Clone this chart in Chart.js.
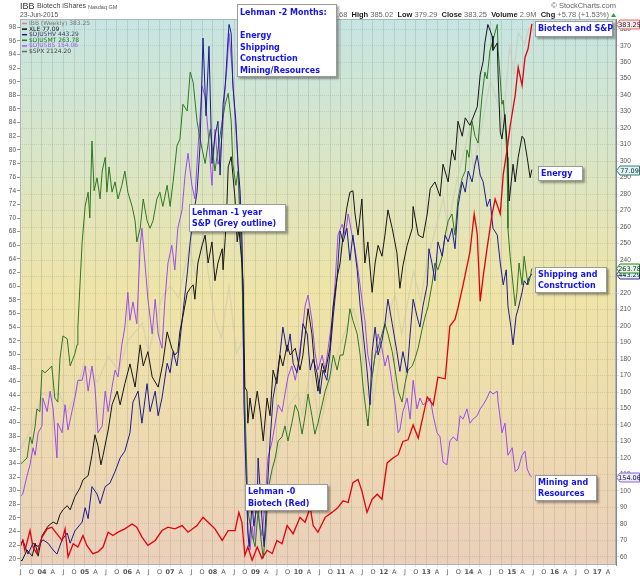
<!DOCTYPE html>
<html>
<head>
<meta charset="utf-8">
<script src="https://cdn.jsdelivr.net/npm/chart.js@4.4.0/dist/chart.umd.min.js"></script>
<style>
  html, body { margin: 0; padding: 0; background: #fff; }
  #wrap { width: 640px; height: 576px; position: relative; }
</style>
</head>
<body>
<div id="wrap"><canvas id="chart"></canvas></div>
<script>
// quarterly tick labels, first one is July 2003
const xTickStart = 2003.5;
const xTickLabels = ['J','O',
  '04','A','J','O','05','A','J','O','06','A','J','O','07','A','J','O',
  '08','A','J','O','09','A','J','O','10','A','J','O','11','A','J','O',
  '12','A','J','O','13','A','J','O','14','A','J','O','15','A','J','O',
  '16','A','J','O','17','A'];
const leftTicks = [20,22,24,26,28,30,32,34,36,38,40,42,44,46,48,50,52,54,56,58,
  60,62,64,66,68,70,72,74,76,78,80,82,84,86,88,90,92,94,96,98];
const rightTicks = [60,70,80,90,100,110,120,130,140,150,160,170,180,190,200,210,
  220,230,240,250,260,270,280,290,300,310,320,330,340,350,360,370,380];

// IBB weekly close (right scale), [year, value]
const ibb = [[2003.48,66],[2003.55,70],[2003.60,64],[2003.72,76],[2003.79,66],[2003.88,62],[2004.00,72],[2004.12,77],[2004.23,78],[2004.35,74],[2004.47,70],[2004.54,77],[2004.61,60],[2004.73,68],[2004.84,66],[2004.96,73],[2005.05,67],[2005.19,62],[2005.31,63],[2005.43,66],[2005.55,75],[2005.66,73],[2005.78,75],[2005.94,77],[2006.11,80],[2006.22,78],[2006.34,72],[2006.48,67],[2006.65,70],[2006.81,76],[2006.95,78],[2007.11,77],[2007.28,79],[2007.42,75],[2007.63,79],[2007.77,84],[2007.89,81],[2008.05,77],[2008.22,70],[2008.36,76],[2008.52,76],[2008.61,87],[2008.68,81],[2008.75,61],[2008.82,66],[2008.92,58],[2009.04,66],[2009.15,59],[2009.27,64],[2009.39,62],[2009.50,70],[2009.62,68],[2009.74,79],[2009.88,74],[2010.04,84],[2010.16,81],[2010.28,90],[2010.35,79],[2010.46,75],[2010.63,84],[2010.79,87],[2010.93,90],[2011.05,94],[2011.17,93],[2011.28,105],[2011.40,107],[2011.49,100],[2011.61,87],[2011.73,95],[2011.85,98],[2011.96,95],[2012.08,117],[2012.22,120],[2012.34,122],[2012.45,130],[2012.57,131],[2012.69,140],[2012.81,132],[2013.02,157],[2013.16,152],[2013.27,169],[2013.44,168],[2013.55,200],[2013.67,204],[2013.74,211],[2013.86,225],[2014.02,245],[2014.12,268],[2014.19,256],[2014.26,215],[2014.33,230],[2014.42,247],[2014.54,268],[2014.61,277],[2014.73,268],[2014.80,292],[2014.89,307],[2014.96,321],[2015.08,340],[2015.15,357],[2015.24,346],[2015.31,363],[2015.38,368],[2015.47,383.25]];

// overlays, read against the left scale
const xle = [[2003.48,20.0],[2003.53,19.7],[2003.65,21.3],[2003.77,20.4],[2003.84,22.3],[2003.91,20.4],[2004.00,23.4],[2004.14,24.8],[2004.26,25.4],[2004.35,25.1],[2004.42,26.5],[2004.49,27.2],[2004.59,27.8],[2004.66,27.2],[2004.77,29.1],[2004.89,30.4],[2004.96,31.6],[2005.08,32.2],[2005.17,35.2],[2005.24,38.2],[2005.31,36.6],[2005.38,33.8],[2005.43,35.2],[2005.55,38.9],[2005.64,42.6],[2005.76,44.6],[2005.83,42.6],[2005.94,45.7],[2006.06,48.6],[2006.18,45.2],[2006.30,51.4],[2006.37,48.3],[2006.48,50.4],[2006.58,46.7],[2006.72,45.2],[2006.83,48.7],[2006.93,53.3],[2007.04,50.9],[2007.11,49.9],[2007.18,50.4],[2007.23,53.4],[2007.30,55.6],[2007.40,59.0],[2007.47,59.7],[2007.54,60.2],[2007.58,58.1],[2007.65,63.4],[2007.75,66.0],[2007.82,67.5],[2007.89,63.4],[2007.98,66.5],[2008.05,60.8],[2008.12,63.4],[2008.22,65.5],[2008.24,62.4],[2008.29,67.0],[2008.33,72.0],[2008.36,77.5],[2008.43,79.0],[2008.47,76.3],[2008.52,72.8],[2008.57,66.5],[2008.61,68.5],[2008.68,63.4],[2008.71,60.2],[2008.75,45.2],[2008.80,44.6],[2008.82,39.9],[2008.87,43.6],[2008.94,40.5],[2009.04,44.6],[2009.11,41.5],[2009.18,37.3],[2009.27,43.6],[2009.34,41.0],[2009.41,47.7],[2009.50,45.7],[2009.57,49.9],[2009.64,48.3],[2009.74,51.4],[2009.81,49.9],[2009.93,50.9],[2010.04,47.7],[2010.11,49.9],[2010.23,56.7],[2010.32,53.0],[2010.39,47.7],[2010.46,44.6],[2010.56,48.7],[2010.63,47.3],[2010.74,50.9],[2010.82,57.1],[2010.91,61.3],[2010.98,63.4],[2011.05,67.5],[2011.14,71.6],[2011.21,73.8],[2011.28,74.0],[2011.33,70.6],[2011.40,67.5],[2011.49,72.8],[2011.56,63.4],[2011.63,66.5],[2011.73,59.1],[2011.80,63.4],[2011.87,66.0],[2011.96,64.4],[2012.03,67.5],[2012.10,71.2],[2012.20,68.5],[2012.31,64.9],[2012.38,59.7],[2012.45,63.0],[2012.55,66.0],[2012.67,68.5],[2012.69,71.7],[2012.81,67.5],[2012.92,67.1],[2013.02,70.6],[2013.09,74.3],[2013.20,75.3],[2013.32,73.2],[2013.39,77.9],[2013.51,75.3],[2013.60,80.0],[2013.67,78.5],[2013.74,84.2],[2013.84,82.0],[2013.91,84.7],[2014.02,83.6],[2014.19,86.3],[2014.26,91.0],[2014.33,93.0],[2014.37,95.7],[2014.44,98.4],[2014.54,96.7],[2014.56,94.6],[2014.66,95.7],[2014.68,91.0],[2014.73,82.6],[2014.77,81.6],[2014.84,85.2],[2014.89,81.0],[2014.94,72.5],[2015.03,77.9],[2015.08,75.3],[2015.15,78.9],[2015.24,82.0],[2015.29,81.6],[2015.36,78.9],[2015.43,75.9],[2015.47,77.09]];

const djushv = [[2003.48,21.5],[2003.55,22.8],[2003.67,20.7],[2003.79,22.3],[2003.91,21.8],[2004.02,22.8],[2004.14,22.3],[2004.26,21.3],[2004.35,20.7],[2004.47,22.8],[2004.59,23.8],[2004.66,22.3],[2004.77,24.1],[2004.94,25.4],[2005.01,27.5],[2005.08,25.9],[2005.17,30.6],[2005.29,29.5],[2005.36,28.1],[2005.48,30.6],[2005.59,31.1],[2005.71,32.8],[2005.83,34.8],[2005.94,35.8],[2006.06,38.5],[2006.13,43.0],[2006.25,44.6],[2006.34,39.9],[2006.46,45.7],[2006.53,41.6],[2006.65,44.6],[2006.72,41.0],[2006.81,43.6],[2006.93,48.7],[2007.00,47.3],[2007.07,50.4],[2007.16,48.3],[2007.23,52.0],[2007.30,56.1],[2007.40,61.8],[2007.47,66.5],[2007.54,70.1],[2007.63,73.8],[2007.70,80.6],[2007.77,96.4],[2007.84,85.0],[2007.91,95.2],[2007.98,78.0],[2008.05,82.0],[2008.12,84.2],[2008.17,76.3],[2008.24,86.7],[2008.29,89.4],[2008.36,96.7],[2008.38,98.4],[2008.43,97.1],[2008.47,89.4],[2008.54,84.2],[2008.59,77.9],[2008.64,73.8],[2008.68,67.5],[2008.71,58.1],[2008.73,42.6],[2008.78,32.2],[2008.82,23.8],[2008.85,21.8],[2008.92,28.1],[2008.96,24.8],[2009.04,28.1],[2009.06,34.8],[2009.15,25.9],[2009.20,21.8],[2009.27,29.5],[2009.34,37.3],[2009.41,43.6],[2009.50,46.7],[2009.57,49.9],[2009.64,54.0],[2009.74,50.4],[2009.81,53.0],[2009.88,48.7],[2009.97,47.3],[2010.04,49.9],[2010.11,54.5],[2010.21,53.0],[2010.28,47.7],[2010.35,49.3],[2010.44,47.3],[2010.51,44.2],[2010.58,47.7],[2010.67,46.2],[2010.74,49.9],[2010.82,55.6],[2010.91,61.3],[2010.98,68.1],[2011.05,66.5],[2011.14,68.5],[2011.21,63.8],[2011.28,67.5],[2011.38,62.4],[2011.45,57.1],[2011.52,53.0],[2011.61,47.7],[2011.68,42.6],[2011.73,50.4],[2011.80,54.0],[2011.87,49.9],[2011.96,52.0],[2012.03,54.5],[2012.10,58.1],[2012.20,54.5],[2012.31,50.4],[2012.38,47.5],[2012.45,50.4],[2012.55,47.3],[2012.62,53.0],[2012.69,58.1],[2012.78,55.6],[2012.85,54.0],[2012.92,57.1],[2013.02,60.2],[2013.06,65.5],[2013.13,63.4],[2013.20,60.8],[2013.27,66.5],[2013.37,64.4],[2013.44,67.5],[2013.51,66.5],[2013.60,68.5],[2013.67,65.5],[2013.74,71.7],[2013.84,75.3],[2013.91,73.8],[2013.98,76.9],[2014.07,75.3],[2014.14,77.9],[2014.19,79.2],[2014.26,76.3],[2014.33,75.3],[2014.42,71.7],[2014.49,72.8],[2014.56,68.5],[2014.66,67.5],[2014.73,63.4],[2014.80,60.2],[2014.87,62.4],[2014.91,57.1],[2014.98,54.0],[2015.03,51.4],[2015.10,55.6],[2015.15,56.7],[2015.24,59.1],[2015.29,60.8],[2015.36,60.2],[2015.40,61.2],[2015.47,61.8]];

const djusmt = [[2003.48,33.8],[2003.55,34.2],[2003.65,34.8],[2003.72,37.9],[2003.77,36.9],[2003.84,39.5],[2003.88,42.0],[2003.95,41.6],[2004.00,47.7],[2004.07,47.3],[2004.14,47.7],[2004.23,48.3],[2004.30,43.6],[2004.37,43.0],[2004.42,49.3],[2004.49,52.7],[2004.59,52.3],[2004.66,48.3],[2004.77,50.1],[2004.82,51.4],[2004.84,54.0],[2004.94,66.5],[2005.01,71.7],[2005.08,73.8],[2005.12,70.0],[2005.17,81.3],[2005.22,74.0],[2005.29,75.9],[2005.36,72.8],[2005.41,76.9],[2005.48,78.9],[2005.52,73.8],[2005.57,77.5],[2005.64,73.8],[2005.71,75.3],[2005.78,72.8],[2005.87,74.8],[2005.94,76.9],[2006.01,73.8],[2006.11,71.7],[2006.18,69.6],[2006.22,66.5],[2006.30,68.5],[2006.37,72.8],[2006.46,69.6],[2006.53,68.5],[2006.60,69.6],[2006.69,72.8],[2006.76,73.8],[2006.83,71.7],[2006.93,74.8],[2007.00,71.7],[2007.07,75.3],[2007.16,80.6],[2007.23,81.6],[2007.30,86.7],[2007.40,85.7],[2007.47,91.4],[2007.54,89.9],[2007.63,84.2],[2007.70,81.6],[2007.82,78.0],[2007.94,83.0],[2008.05,76.9],[2008.12,80.0],[2008.22,84.2],[2008.29,86.7],[2008.36,88.3],[2008.43,84.2],[2008.47,77.9],[2008.54,74.8],[2008.59,76.9],[2008.64,68.5],[2008.68,63.4],[2008.71,53.0],[2008.75,42.6],[2008.80,32.2],[2008.82,27.0],[2008.92,23.4],[2008.99,21.8],[2009.06,27.0],[2009.13,22.8],[2009.18,20.1],[2009.25,24.8],[2009.29,30.1],[2009.39,33.2],[2009.46,34.8],[2009.53,37.3],[2009.62,37.9],[2009.69,39.5],[2009.76,37.3],[2009.85,39.9],[2009.93,42.6],[2010.00,41.6],[2010.09,38.3],[2010.16,41.0],[2010.23,44.2],[2010.32,41.0],[2010.39,38.3],[2010.46,39.9],[2010.56,42.6],[2010.63,44.6],[2010.74,46.7],[2010.82,49.9],[2010.91,47.7],[2010.98,49.9],[2011.05,49.9],[2011.14,53.0],[2011.21,56.7],[2011.28,55.0],[2011.38,53.0],[2011.45,49.9],[2011.52,45.2],[2011.61,40.5],[2011.63,39.5],[2011.73,46.7],[2011.80,49.9],[2011.87,50.9],[2011.96,53.0],[2012.03,54.5],[2012.10,53.0],[2012.20,50.4],[2012.27,47.7],[2012.34,44.6],[2012.43,43.0],[2012.50,45.7],[2012.57,47.7],[2012.67,48.3],[2012.74,49.5],[2012.81,51.0],[2012.90,53.7],[2012.97,55.5],[2013.04,57.0],[2013.13,60.2],[2013.20,63.4],[2013.27,62.4],[2013.37,64.4],[2013.44,67.5],[2013.51,69.6],[2013.60,70.6],[2013.67,67.5],[2013.74,72.8],[2013.84,75.9],[2013.91,76.9],[2013.95,80.0],[2014.00,78.9],[2014.07,84.2],[2014.14,82.0],[2014.21,81.0],[2014.30,87.7],[2014.37,91.4],[2014.42,90.4],[2014.49,94.6],[2014.56,96.1],[2014.66,98.4],[2014.68,94.6],[2014.73,90.4],[2014.77,86.7],[2014.80,87.3],[2014.84,84.2],[2014.89,78.9],[2014.91,68.5],[2014.96,64.4],[2015.03,60.2],[2015.08,57.1],[2015.12,59.1],[2015.17,63.4],[2015.24,60.2],[2015.29,64.4],[2015.33,62.4],[2015.38,60.2],[2015.43,61.3],[2015.47,62.6]];

const djusbs = [[2003.48,29.1],[2003.55,29.5],[2003.65,32.2],[2003.72,33.8],[2003.79,36.3],[2003.84,35.2],[2003.91,38.5],[2004.00,39.5],[2004.02,43.6],[2004.12,41.6],[2004.19,44.6],[2004.26,42.0],[2004.35,34.8],[2004.37,39.9],[2004.47,38.5],[2004.54,42.6],[2004.61,38.9],[2004.70,41.6],[2004.77,43.6],[2004.84,46.2],[2004.94,46.2],[2005.01,48.3],[2005.08,44.6],[2005.17,48.3],[2005.24,45.2],[2005.31,38.5],[2005.41,39.5],[2005.48,44.6],[2005.55,41.6],[2005.64,45.2],[2005.71,47.7],[2005.78,46.7],[2005.87,51.4],[2005.94,54.0],[2006.01,59.1],[2006.06,55.0],[2006.13,57.7],[2006.22,54.5],[2006.30,66.0],[2006.34,68.5],[2006.41,63.4],[2006.48,58.1],[2006.58,53.0],[2006.65,58.1],[2006.72,53.0],[2006.81,50.9],[2006.88,58.1],[2006.95,63.4],[2007.04,66.0],[2007.11,62.4],[2007.18,68.5],[2007.28,71.2],[2007.35,76.3],[2007.42,79.5],[2007.51,74.8],[2007.58,72.8],[2007.65,80.0],[2007.75,89.4],[2007.82,87.7],[2007.89,82.6],[2007.98,74.8],[2008.05,83.0],[2008.12,77.9],[2008.17,78.9],[2008.24,84.2],[2008.29,89.4],[2008.33,92.0],[2008.38,97.1],[2008.45,92.0],[2008.50,86.7],[2008.57,80.0],[2008.61,74.8],[2008.68,66.0],[2008.71,53.0],[2008.75,37.3],[2008.80,29.5],[2008.82,24.4],[2008.87,21.3],[2008.92,24.8],[2008.96,22.8],[2009.04,30.6],[2009.08,25.9],[2009.15,23.4],[2009.22,28.1],[2009.29,34.8],[2009.39,37.3],[2009.46,39.9],[2009.53,42.6],[2009.62,41.6],[2009.69,44.2],[2009.76,46.7],[2009.85,48.3],[2009.93,46.2],[2010.00,48.7],[2010.09,53.0],[2010.16,57.1],[2010.23,58.7],[2010.32,55.0],[2010.39,50.4],[2010.46,47.7],[2010.56,49.9],[2010.63,47.7],[2010.70,50.9],[2010.79,55.0],[2010.86,60.2],[2010.93,67.5],[2011.03,69.1],[2011.10,67.5],[2011.17,70.6],[2011.26,67.5],[2011.33,65.5],[2011.40,62.4],[2011.49,58.1],[2011.56,55.0],[2011.63,49.9],[2011.73,46.7],[2011.80,49.9],[2011.87,53.0],[2011.96,50.9],[2012.03,48.3],[2012.10,49.9],[2012.20,45.7],[2012.27,42.6],[2012.34,38.5],[2012.38,38.9],[2012.45,41.6],[2012.55,43.6],[2012.62,40.5],[2012.69,46.2],[2012.78,42.0],[2012.85,43.6],[2012.92,42.6],[2013.02,43.0],[2013.09,43.6],[2013.16,41.0],[2013.25,38.5],[2013.32,37.9],[2013.39,34.2],[2013.48,33.8],[2013.55,37.3],[2013.63,37.9],[2013.72,37.3],[2013.79,41.0],[2013.86,40.5],[2013.95,42.0],[2014.02,39.9],[2014.09,40.5],[2014.19,41.0],[2014.26,42.0],[2014.33,42.6],[2014.42,43.6],[2014.49,44.6],[2014.56,44.2],[2014.66,44.6],[2014.68,43.0],[2014.77,38.5],[2014.84,39.9],[2014.91,35.2],[2015.01,36.3],[2015.08,32.8],[2015.15,33.2],[2015.24,35.2],[2015.31,35.8],[2015.36,33.2],[2015.43,32.2],[2015.47,32.0]];

const spx = [[2003.48,35.9],[2003.60,37.3],[2003.75,38.9],[2004.00,44.3],[2004.20,43.8],[2004.40,44.3],[2004.60,41.6],[2004.80,44.3],[2004.98,48.7],[2005.30,45.9],[2005.55,49.7],[2005.80,47.6],[2006.00,51.9],[2006.35,54.6],[2006.50,50.2],[2006.80,58.3],[2007.00,60.0],[2007.20,58.3],[2007.45,65.9],[2007.60,61.6],[2007.78,67.5],[2007.90,61.6],[2008.05,55.1],[2008.20,52.4],[2008.38,60.0],[2008.55,50.2],[2008.70,51.9],[2008.80,31.9],[2008.90,27.6],[2009.00,31.9],[2009.18,20.0],[2009.30,29.2],[2009.45,34.0],[2009.60,37.3],[2009.80,42.7],[2010.00,44.3],[2010.10,41.1],[2010.30,48.6],[2010.50,38.9],[2010.70,45.4],[2010.95,50.8],[2011.30,56.7],[2011.50,51.9],[2011.60,44.3],[2011.75,42.7],[2012.00,53.5],[2012.27,58.9],[2012.42,52.9],[2012.70,62.1],[2012.87,57.8],[2013.00,63.2],[2013.40,72.9],[2013.50,68.6],[2013.70,75.1],[2014.00,82.6],[2014.10,77.2],[2014.50,90.2],[2014.80,84.3],[2014.95,95.1],[2015.05,91.3],[2015.15,97.2],[2015.30,95.6],[2015.40,97.8],[2015.47,98.0]];

const legendLabels = ['IBB (Weekly) 383.25', 'XLE 77.09', '$DJUSHV 443.29',
  '$DJUSMT 263.78', '$DJUSBS 154.06', '$SPX 2124.20'];
const tagLabels = ['383.25', '77.09', '443.29', '263.78', '154.06'];

const FONT = '"DejaVu Sans", Verdana, sans-serif';
const ARIAL = '"Liberation Sans", Arial, sans-serif';
const toPts = arr => arr.map(([x, y]) => ({ x, y }));

const series = [
  { data: ibb, axis: 'yR', color: '#e4000c', width: 1.3, text: '#777', swatch: '#e77' },
  { data: xle, axis: 'yL', color: '#161616', width: 1, text: '#222', swatch: '#111' },
  { data: djushv, axis: 'yL', color: '#1c1c94', width: 1, text: '#446', swatch: '#226' },
  { data: djusmt, axis: 'yL', color: '#2c7a20', width: 1, text: '#272', swatch: '#272' },
  { data: djusbs, axis: 'yL', color: '#9a4cf0', width: 1, text: '#a060f0', swatch: '#a5f' },
  { data: spx, axis: 'yL', color: 'rgba(200,196,176,0.55)', width: 1.2, text: '#444', swatch: '#666' },
];

const tagStyle = [
  { border: '#d66', fill: '#fbe6e6' },
  { border: '#377', fill: '#dff3f3' },
  { border: '#337', fill: '#e3ebf8' },
  { border: '#282', fill: '#e4f3e0' },
  { border: '#86c', fill: '#eee8fb' },
];

const notes = [
  { x: 237, y: 4, w: 100, h: 73, lines: [['Lehman -2 Months:', 13], ['Energy', 36], ['Shipping', 47.5], ['Construction', 59], ['Mining/Resources', 70.5]] },
  { x: 189, y: 204, w: 97, h: 28, lines: [['Lehman -1 year', 212.5], ['S&P (Grey outline)', 224]] },
  { x: 245, y: 484, w: 83, h: 27, lines: [['Lehman -0', 492], ['Biotech (Red)', 503.5]] },
  { x: 535, y: 21, w: 78, h: 16, lines: [['Biotech and S&P', 29]] },
  { x: 538, y: 166, w: 45, h: 15, lines: [['Energy', 173.5]] },
  { x: 535, y: 267, w: 72, h: 26, lines: [['Shipping and', 275], ['Construction', 286]] },
  { x: 535, y: 475, w: 62, h: 26, lines: [['Mining and', 482.5], ['Resources', 494]] },
];

const background = {
  id: 'background',
  beforeDraw(chart) {
    const { ctx, chartArea: a } = chart;
    ctx.save();
    ctx.fillStyle = '#fff';
    ctx.fillRect(0, 0, chart.width, chart.height);
    const g = ctx.createLinearGradient(0, a.top, 0, a.bottom);
    g.addColorStop(0, '#c6e5e3');
    g.addColorStop(0.25, '#d9e5c6');
    g.addColorStop(0.5, '#efe4a8');
    g.addColorStop(0.72, '#eedcae');
    g.addColorStop(1, '#ebcfbc');
    ctx.fillStyle = g;
    ctx.fillRect(a.left, a.top, a.right - a.left, a.bottom - a.top);
    ctx.restore();
  }
};

function txt(ctx, s, x, y, font, color, align) {
  ctx.font = font;
  ctx.fillStyle = color;
  ctx.textAlign = align || 'left';
  ctx.textBaseline = 'middle';
  ctx.fillText(s, x, y);
}

const overlay = {
  id: 'overlay',
  afterDraw(chart) {
    const { ctx, chartArea: a } = chart;
    ctx.save();

    // header
    txt(ctx, 'IBB', 20, 6.5, '9px ' + ARIAL, '#333');
    txt(ctx, 'Biotech iShares', 37, 6.5, '7px ' + ARIAL, '#444');
    txt(ctx, 'Nasdaq GM', 88, 7, '5.5px ' + ARIAL, '#555');
    txt(ctx, '23-Jun-2015', 20, 15, '6.8px ' + ARIAL, '#555');
    txt(ctx, '\u00A9 StockCharts.com', 616, 6, '7.5px ' + ARIAL, '#666', 'right');
    const quote = [['Open', 1], [' 380.68  ', 0], ['High', 1], [' 385.02  ', 0], ['Low', 1],
      [' 379.29  ', 0], ['Close', 1], [' 383.25  ', 0], ['Volume', 1], [' 2.9M  ', 0],
      ['Chg', 1], [' +5.78 (+1.53%)', 0]];
    const qf = b => (b ? 'bold ' : '') + '7.5px ' + ARIAL;
    let total = 0;
    quote.forEach(([s, b]) => { ctx.font = qf(b); total += ctx.measureText(s).width; });
    let qx = 609 - total;
    quote.forEach(([s, b]) => {
      txt(ctx, s, qx, 15, qf(b), b ? '#222' : '#666');
      ctx.font = qf(b);
      qx += ctx.measureText(s).width;
    });
    ctx.fillStyle = '#2a2';
    ctx.beginPath();
    ctx.moveTo(611, 17); ctx.lineTo(616, 17); ctx.lineTo(613.5, 13); ctx.closePath();
    ctx.fill();

    // plot frame
    ctx.strokeStyle = '#a9b6b4';
    ctx.lineWidth = 1;
    ctx.strokeRect(a.left + 0.5, a.top + 0.5, a.right - a.left - 1, a.bottom - a.top - 1);

    // legend
    legendLabels.forEach((s, i) => {
      const y = 23.5 + i * 5.6;
      ctx.strokeStyle = series[i].swatch;
      ctx.lineWidth = 1.5;
      ctx.beginPath(); ctx.moveTo(22, y); ctx.lineTo(27, y); ctx.stroke();
      txt(ctx, s, 29, y, '6px ' + FONT, series[i].text);
    });

    // last value tags on the right edge
    tagLabels.forEach((s, i) => {
      const sc = chart.scales[series[i].axis];
      const d = series[i].data;
      const y = Math.round(sc.getPixelForValue(d[d.length - 1][1])) + 0.5;
      ctx.fillStyle = tagStyle[i].fill;
      ctx.strokeStyle = tagStyle[i].border;
      ctx.lineWidth = 1;
      ctx.beginPath();
      ctx.moveTo(616.5, y); ctx.lineTo(620, y - 4.5); ctx.lineTo(639.5, y - 4.5);
      ctx.lineTo(639.5, y + 4.5); ctx.lineTo(620, y + 4.5); ctx.closePath();
      ctx.fill(); ctx.stroke();
      txt(ctx, s, 629.5, y + 0.5, '6.5px ' + FONT, '#123', 'center');
    });

    // annotation boxes
    notes.forEach(n => {
      ctx.save();
      ctx.shadowColor = 'rgba(0,0,0,0.35)';
      ctx.shadowOffsetX = 2; ctx.shadowOffsetY = 2; ctx.shadowBlur = 2;
      ctx.fillStyle = '#fff';
      ctx.fillRect(n.x, n.y, n.w, n.h);
      ctx.restore();
      ctx.strokeStyle = '#9a9a9a';
      ctx.lineWidth = 1;
      ctx.strokeRect(n.x + 0.5, n.y + 0.5, n.w - 1, n.h - 1);
      n.lines.forEach(([s, y]) => txt(ctx, s, n.x + 3, y, 'bold 8px ' + FONT, '#1414e6'));
    });
    ctx.restore();
  }
};

new Chart(document.getElementById('chart'), {
  type: 'line',
  data: {
    datasets: series.map(s => ({
      data: toPts(s.data),
      yAxisID: s.axis,
      borderColor: s.color,
      borderWidth: s.width,
      pointRadius: 0,
      tension: 0,
      fill: false,
    })),
  },
  options: {
    responsive: true,
    maintainAspectRatio: false,
    animation: false,
    layout: { padding: { top: 19 } },
    plugins: { legend: { display: false }, tooltip: { enabled: false } },
    scales: {
      x: {
        type: 'linear',
        min: 2003.485,
        max: 2017.44,
        afterBuildTicks: ax => { ax.ticks = xTickLabels.map((_, i) => ({ value: xTickStart + i * 0.25 })); },
        afterFit: ax => { ax.height = 11; },
        grid: { color: 'rgba(120,130,110,0.22)', tickLength: 2 },
        border: { display: false },
        ticks: {
          autoSkip: false, maxRotation: 0, padding: 1, color: '#555',
          callback: (v, i) => xTickLabels[i],
          font: c => ({ family: FONT, size: 6.5, weight: /\d/.test(xTickLabels[c.index] || '') ? 'bold' : 'normal' }),
        },
      },
      yL: {
        position: 'left',
        min: 19.1,
        max: 99.2,
        afterBuildTicks: ax => { ax.ticks = leftTicks.map(v => ({ value: v })); },
        afterFit: ax => { ax.width = 20; },
        grid: { drawOnChartArea: false, tickLength: 3, color: '#999' },
        border: { color: '#9fb3b1' },
        ticks: { padding: 1, color: '#555', font: { family: ARIAL, size: 6.5 } },
      },
      yR: {
        position: 'right',
        min: 55.1,
        max: 386.2,
        afterBuildTicks: ax => { ax.ticks = rightTicks.map(v => ({ value: v })); },
        afterFit: ax => { ax.width = 24; },
        grid: { color: 'rgba(120,130,110,0.22)', tickLength: 3 },
        border: { color: '#888', dash: [1, 1] },
        ticks: { padding: 1, color: '#555', font: { family: ARIAL, size: 6.5 } },
      },
    },
  },
  plugins: [background, overlay],
});
</script>
</body>
</html>
